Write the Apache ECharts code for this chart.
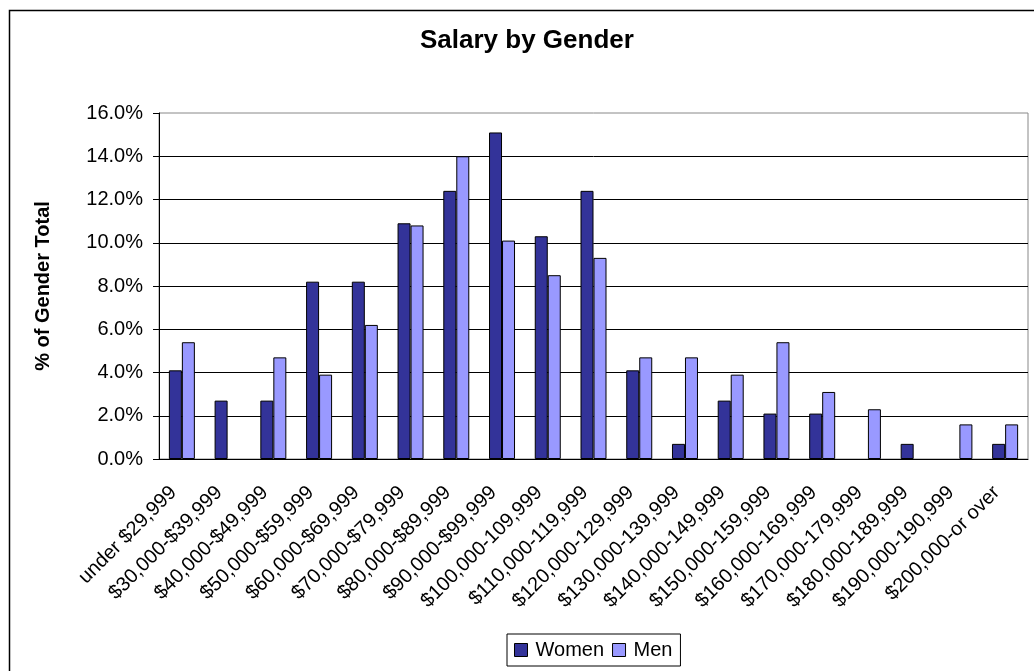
<!DOCTYPE html>
<html>
<head>
<meta charset="utf-8">
<title>Salary by Gender</title>
<script src="https://cdn.jsdelivr.net/npm/echarts@6/dist/echarts.min.js"></script>
<style>
  html, body { margin: 0; padding: 0; background: #fff; }
  #main { width: 1034px; height: 671px; }
</style>
</head>
<body>
<div id="main"></div>
<script>
// salary bands
var categories = ['under $29,999', '$30,000-$39,999', '$40,000-$49,999', '$50,000-$59,999',
  '$60,000-$69,999', '$70,000-$79,999', '$80,000-$89,999', '$90,000-$99,999',
  '$100,000-109,999', '$110,000-119,999', '$120,000-129,999', '$130,000-139,999',
  '$140,000-149,999', '$150,000-159,999', '$160,000-169,999', '$170,000-179,999',
  '$180,000-189,999', '$190,000-190,999', '$200,000-or over'];
// % of gender total
var women = [4.1, 2.7, 2.7, 8.2, 8.2, 10.9, 12.4, 15.1, 10.3, 12.4, 4.1, 0.7, 2.7, 2.1, 2.1, 0, 0.7, 0, 0.7];
var men = [5.4, 0, 4.7, 3.9, 6.2, 10.8, 14.0, 10.1, 8.5, 9.3, 4.7, 4.7, 3.9, 5.4, 3.1, 2.3, 0, 1.6, 1.6];
var yTicks = [0, 2, 4, 6, 8, 10, 12, 14, 16];

var font = 'Liberation Sans, Arial, sans-serif';

// zero bars get no outline so nothing shows on the axis
function barData(arr) {
    return arr.map(function (v) {
        return v === 0 ? { value: 0, itemStyle: { borderWidth: 0 } } : v;
    });
}

var myChart = echarts.init(document.getElementById('main'));

var option = {
    backgroundColor: '#fff',
    animation: false,
    textStyle: { fontFamily: font, color: '#000' },
    title: {
        text: 'Salary by Gender',
        left: 420,
        top: 28,
        padding: 0,
        textStyle: { fontFamily: font, fontSize: 26, fontWeight: 'bold', color: '#000' }
    },
    // outer chart frame
    graphic: [{
        type: 'rect',
        shape: { x: 9.5, y: 10.5, width: 1100, height: 800 },
        style: { fill: null, stroke: '#000', lineWidth: 1.5 },
        silent: true
    }],
    legend: {
        data: ['Women', 'Men'],
        left: 507,
        top: 634,
        padding: [6, 8, 6, 7],
        itemGap: 8,
        itemWidth: 13,
        itemHeight: 13,
        icon: 'rect',
        borderColor: '#000',
        borderWidth: 1,
        itemStyle: { borderColor: '#000', borderWidth: 1 },
        textStyle: { fontFamily: font, fontSize: 20, color: '#000', padding: [0, 0, 0, 3] }
    },
    grid: {
        left: 159,
        right: 6,
        top: 113,
        bottom: 212,
        show: true,
        borderColor: '#888',
        borderWidth: 1
    },
    xAxis: {
        type: 'category',
        data: categories,
        axisLine: { lineStyle: { color: '#000', width: 1 } },
        axisTick: { length: 6, lineStyle: { color: '#000' } },
        axisLabel: {
            interval: 0,
            rotate: 45,
            margin: 22,
            padding: [0, 12, 0, 0],
            fontFamily: font,
            fontSize: 20,
            color: '#000'
        }
    },
    yAxis: {
        type: 'value',
        min: yTicks[0],
        max: yTicks[yTicks.length - 1],
        interval: 2,
        name: '% of Gender Total',
        nameLocation: 'middle',
        nameGap: 106,
        nameTextStyle: { fontFamily: font, fontSize: 20, fontWeight: 'bold', color: '#000' },
        axisLine: { show: true, lineStyle: { color: '#000', width: 1 } },
        axisTick: { show: true, length: 6, lineStyle: { color: '#000' } },
        axisLabel: {
            margin: 16,
            fontFamily: font,
            fontSize: 20,
            color: '#000',
            formatter: function (v) { return v.toFixed(1) + '%'; }
        },
        splitLine: { show: true, showMaxLine: false, lineStyle: { color: '#000', width: 1 } }
    },
    series: [
        {
            name: 'Women',
            type: 'bar',
            data: barData(women),
            barWidth: 13,
            barGap: '0%',
            itemStyle: { color: '#333399', borderColor: '#000', borderWidth: 1 }
        },
        {
            name: 'Men',
            type: 'bar',
            data: barData(men),
            barWidth: 13,
            barGap: '0%',
            itemStyle: { color: '#9999FF', borderColor: '#000', borderWidth: 1 }
        }
    ]
};

myChart.setOption(option);
window.onresize = myChart.resize;
</script>
</body>
</html>
